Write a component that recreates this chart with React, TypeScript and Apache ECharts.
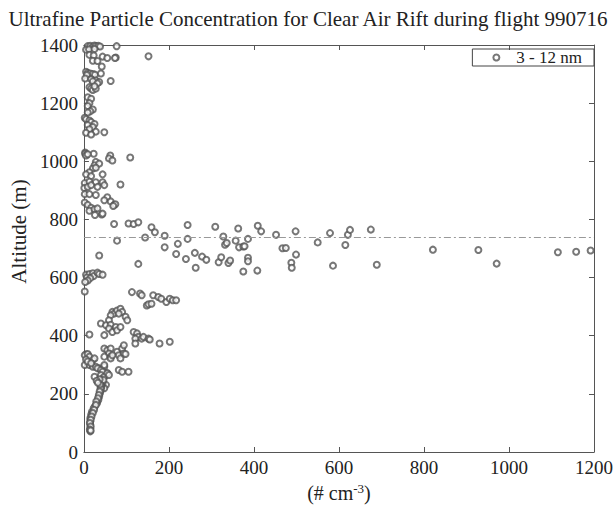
import React, { useEffect, useRef } from "react";
import * as echarts from "echarts";

// [concentration (# cm^-3), altitude (m)]
const upperLayer: number[][] = [
  [9, 1396], [15, 1397], [21, 1395], [25, 1398], [28, 1396], [34, 1397], [38, 1395], [77, 1396],
  [5, 1384], [12, 1385], [25, 1386],
  [13, 1366], [23, 1364], [44, 1360], [55, 1355], [75, 1357], [73, 1355],
  [21, 1346], [32, 1345], [152, 1361], [42, 1326],
  [5, 1308], [9, 1304], [15, 1302], [21, 1300], [26, 1298], [7, 1297], [40, 1302],
  [3, 1285], [17, 1282], [28, 1278], [36, 1273], [63, 1276], [21, 1275], [32, 1268],
  [13, 1255], [17, 1250], [21, 1245], [28, 1250], [25, 1258],
  [9, 1220], [17, 1215], [13, 1200], [9, 1190], [21, 1178], [15, 1172], [9, 1168],
  [2, 1150], [5, 1145], [13, 1140], [17, 1135], [25, 1128], [9, 1125], [21, 1118], [13, 1110],
  [28, 1102], [5, 1098], [48, 1100], [17, 1092],
  [3, 1030], [3, 1026], [5, 1020], [23, 1026], [9, 1024],
  [62, 1020], [59, 1010], [67, 1003], [109, 1013],
  [28, 998], [25, 986], [36, 992], [21, 975], [28, 978],
  [13, 962], [5, 955], [17, 949], [44, 955],
  [2, 925], [13, 930], [28, 928], [44, 928], [1, 908], [9, 912], [17, 918], [32, 912], [48, 918], [86, 920],
  [2, 887], [13, 887], [28, 884], [55, 876], [48, 866], [63, 862], [71, 850], [74, 852], [69, 846],
  [2, 858], [9, 850], [17, 840], [13, 830], [25, 835], [32, 838], [26, 815], [42, 817], [44, 820],
];

const riftBand: number[][] = [
  [71, 784], [105, 786], [117, 784], [128, 790], [159, 773], [167, 756], [190, 744], [244, 781],
  [144, 738], [78, 727], [190, 704], [221, 716], [217, 681], [36, 676], [128, 647],
  [244, 733], [240, 664], [261, 685], [263, 634], [278, 672], [288, 661], [309, 775], [317, 653],
  [323, 670], [328, 741], [332, 713], [336, 719], [340, 650], [344, 659], [357, 727], [363, 769],
  [365, 704], [375, 707], [378, 708], [375, 621], [386, 733], [386, 668], [386, 656], [408, 624],
  [409, 778], [417, 759], [452, 747], [467, 701], [475, 702], [488, 651], [489, 634], [498, 759],
  [499, 679], [550, 721], [579, 753], [586, 641], [615, 712], [621, 747], [626, 764], [675, 765],
  [689, 644], [821, 696], [928, 695], [971, 648], [1115, 687], [1158, 689], [1192, 693],
];

const lowerLayer: number[][] = [
  [5, 610], [13, 612], [21, 615], [23, 605], [32, 617], [36, 612], [44, 610], [7, 600], [15, 598],
  [9, 590], [3, 585], [2, 552],
  [113, 550], [132, 545], [136, 539], [148, 504], [152, 508], [159, 510], [163, 539], [175, 533],
  [182, 527], [194, 516], [202, 527], [209, 522], [217, 522],
  [67, 482], [71, 476], [78, 487], [86, 493], [90, 482], [82, 476], [63, 470], [98, 465], [102, 453],
  [59, 453], [40, 442], [52, 436], [63, 438], [59, 425], [67, 413], [75, 430], [78, 419], [86, 430],
  [48, 402], [13, 404],
  [117, 413], [125, 408], [128, 396], [121, 390], [136, 390], [140, 396], [152, 390], [121, 373],
  [178, 373], [202, 379], [155, 387],
  [48, 356], [55, 350], [63, 356], [59, 339], [78, 345], [90, 356], [94, 367], [82, 333], [94, 339],
  [48, 328], [63, 328], [5, 336], [9, 334],
  [2, 333], [9, 337], [13, 328], [5, 318], [2, 299], [21, 316], [25, 322], [63, 322], [67, 333],
  [86, 322], [98, 337], [13, 299], [21, 293], [28, 293], [36, 288], [48, 293], [82, 282], [90, 276],
  [105, 276], [9, 311], [17, 305], [32, 288], [40, 282], [48, 299], [55, 271], [44, 276],
  [25, 259], [40, 265], [44, 253], [48, 259], [55, 271], [59, 265], [52, 231], [48, 219], [40, 225],
];

const surfaceProfile: number[][] = [
  [44, 236], [41, 225], [40, 213], [38, 202], [36, 191], [34, 179], [31, 168], [26, 157], [23, 151],
  [19, 139], [17, 128], [15, 116], [15, 105], [15, 94], [15, 82], [15, 71],
  [42, 240], [40, 230], [39, 219], [37, 208], [35, 196], [33, 185], [29, 174], [28, 162], [24, 145],
  [21, 134], [18, 122], [16, 111], [14, 100], [16, 88], [14, 77], [16, 74],
  [40, 244], [46, 248], [38, 233], [37, 250], [30, 245], [33, 238],
];

const riftAltitude = 740;
const seriesName = "3 - 12 nm";
const titleText = "Ultrafine Particle Concentration for Clear Air Rift during flight 990716";

const FONT = "Liberation Serif";
const plain = (v: number) => String(v);

export default function App() {
  const ref = useRef<HTMLDivElement>(null);
  useEffect(() => {
    if (!ref.current) return;
    const chart = echarts.init(ref.current, undefined, { renderer: "svg" });
    const axisColor = "#555";
    const baseX = {
      type: "value",
      min: 0,
      max: 1200,
      interval: 200,
      splitLine: { show: false },
      axisLine: { show: true, onZero: false, lineStyle: { color: axisColor, width: 1 } },
      axisTick: { show: true, inside: true, length: 5, lineStyle: { color: axisColor } },
    };
    const baseY = {
      type: "value",
      min: 0,
      max: 1400,
      interval: 200,
      splitLine: { show: false },
      axisLine: { show: true, onZero: false, lineStyle: { color: axisColor, width: 1 } },
      axisTick: { show: true, inside: true, length: 5, lineStyle: { color: axisColor } },
    };
    chart.setOption({
      animation: false,
      backgroundColor: "#fff",
      textStyle: { fontFamily: FONT },
      title: {
        text: titleText,
        left: "center",
        top: 3,
        textStyle: { fontFamily: FONT, fontSize: 21, fontWeight: "normal", color: "#222" },
      },
      legend: {
        right: 22,
        top: 49,
        orient: "horizontal",
        data: [seriesName],
        itemWidth: 30,
        itemHeight: 6,
        itemGap: 0,
        padding: [0, 12, 0, 20],
        borderColor: "#444",
        borderWidth: 1,
        textStyle: { fontFamily: FONT, fontSize: 17, color: "#222" },
      },
      grid: { left: 76, right: 20, top: 45, bottom: 54, containLabel: false },
      xAxis: [
        {
          ...baseX,
          position: "bottom",
          name: "(# cm{sup|-3})",
          nameLocation: "middle",
          nameGap: 30,
          nameTextStyle: {
            fontFamily: FONT,
            fontSize: 20,
            color: "#222",
            verticalAlign: "top",
            rich: {
              sup: { fontFamily: FONT, fontSize: 13, color: "#222", verticalAlign: "bottom", padding: [0, 0, 9, 0] },
            },
          },
          axisLabel: { fontFamily: FONT, fontSize: 19, color: "#222", margin: 6, formatter: plain },
        },
        { ...baseX, position: "top", axisLabel: { show: false } },
      ],
      yAxis: [
        {
          ...baseY,
          position: "left",
          name: "Altitude (m)",
          nameLocation: "middle",
          nameGap: 40,
          nameTextStyle: { fontFamily: FONT, fontSize: 21, color: "#222", padding: [0, 0, 0, 34] },
          axisLabel: { fontFamily: FONT, fontSize: 19, color: "#222", margin: 6, formatter: plain },
        },
        { ...baseY, position: "right", axisLabel: { show: false } },
      ],
      series: [
        {
          name: seriesName,
          type: "scatter",
          xAxisIndex: 0,
          yAxisIndex: 0,
          symbol: "emptyCircle",
          symbolSize: 6,
          itemStyle: { color: "#555", borderColor: "#555", borderWidth: 1 },
          data: [...upperLayer, ...riftBand, ...lowerLayer, ...surfaceProfile],
          markLine: {
            silent: true,
            symbol: ["none", "none"],
            label: { show: false },
            lineStyle: { color: "#999", width: 1, type: [7, 3, 2, 3] },
            data: [{ yAxis: riftAltitude }],
          },
        },
      ],
    });
    return () => chart.dispose();
  }, []);
  return <div ref={ref} style={{ position: "absolute", left: 0, top: 0, width: 616, height: 508 }} />;
}
